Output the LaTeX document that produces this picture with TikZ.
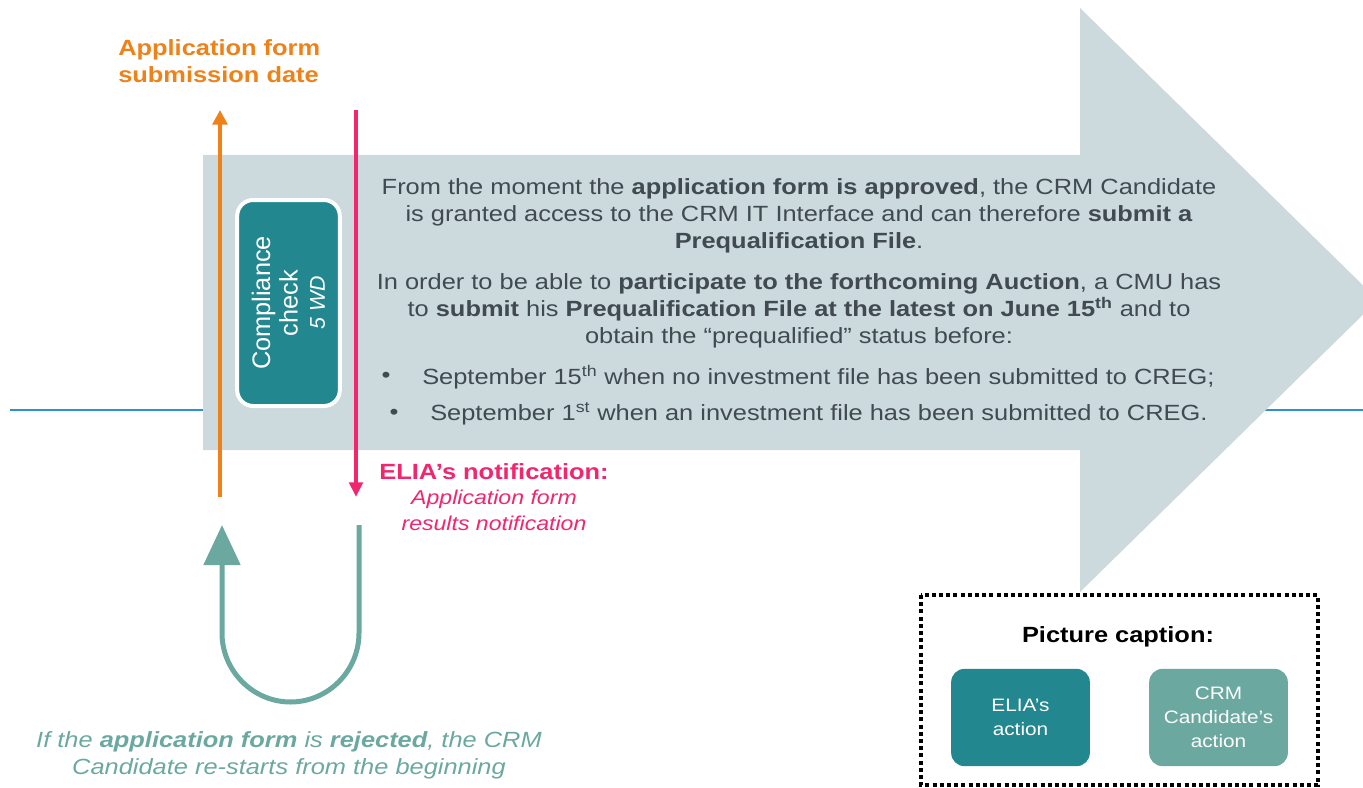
\documentclass[tikz,border=0pt]{standalone}
\usepackage{fontspec}
\setmainfont[FakeStretch=1.155]{Liberation Sans}
\newfontfamily\plainsans{Liberation Sans}
\usetikzlibrary{arrows.meta}
\definecolor{txt}{HTML}{404A50}
\definecolor{pinkc}{HTML}{F2266F}
\definecolor{orangec}{HTML}{EE8219}
\definecolor{tealdark}{HTML}{23878F}
\definecolor{teallight}{HTML}{6BA9A0}
\definecolor{arrowfill}{HTML}{CCD9DD}
\definecolor{bluec}{HTML}{2F8FD5}
\tikzset{
  maintxt/.style={text=txt, font=\fontsize{16.5pt}{20.25pt}\selectfont, inner sep=0pt, align=center},
  actionbox/.style={rounded corners=10pt, minimum width=104pt, minimum height=73pt, text=white, align=center, inner sep=0pt, font=\fontsize{13.5pt}{18pt}\selectfont},
}
\begin{document}
\begin{tikzpicture}[x=0.75pt,y=-0.75pt]
\useasboundingbox (0,0) rectangle (1363,788);
% blue line behind
\coordinate (bl) at (10,410);
\coordinate (br) at (1363,410);
\draw[bluec, line width=1.5pt] (bl) -- (br);
% big arrow
\fill[arrowfill] (203,155) -- (1080,155) -- (1080,8) -- (1378,300) -- (1080,592) -- (1080,450) -- (203,450) -- cycle;
% compliance box
\node[rotate=90, draw=white, line width=3pt, fill=tealdark, rounded corners=12pt, minimum width=154.5pt, minimum height=77pt, text=white, align=center, inner sep=0pt, font=\plainsans\fontsize{19pt}{20.5pt}\selectfont] (cc) at (288.5,303) {Compliance\\check\\{\itshape\fontsize{16pt}{18pt}\selectfont 5 WD}};
% orange arrow
\coordinate (ob) at (220,497);
\coordinate (ot) at (220,110);
\draw[orangec, line width=3.5pt, -{Triangle[width=11pt,length=11pt]}] (ob) -- (ot);
% pink arrow
\coordinate (pt) at (356,110);
\coordinate (pb) at (356,497);
\draw[pinkc, line width=3pt, -{Triangle[width=10pt,length=11pt]}] (pt) -- (pb);
% orange title
\node[text=orangec, font=\bfseries\fontsize{16.5pt}{20.25pt}\selectfont, align=left, anchor=north west, inner sep=0pt] (title) at (118,39) {Application form\\submission date};
% main text
\node[maintxt] (p1) at (799,216) {From the moment the \textbf{application form is approved}, the CRM Candidate\\is granted access to the CRM IT Interface and can therefore \textbf{submit a}\\\textbf{Prequalification File}.};
\node[maintxt] (p2) at (799,311) {In order to be able to \textbf{participate to the forthcoming Auction}, a CMU has\\to \textbf{submit} his \textbf{Prequalification File at the latest on June 15\textsuperscript{th}} and to\\obtain the “prequalified” status before:};
\node[maintxt] (b1) at (386,377) {•};
\node[maintxt, anchor=west] (t1) at (422,377) {September 15\textsuperscript{th} when no investment file has been submitted to CREG;};
\node[maintxt] (b2) at (394,414) {•};
\node[maintxt, anchor=west] (t2) at (430,414) {September 1\textsuperscript{st} when an investment file has been submitted to CREG.};
% pink notification
\node[text=pinkc, align=center, inner sep=0pt, font=\fontsize{16.5pt}{19pt}\selectfont] (notif) at (494,497) {\textbf{ELIA’s notification:}\\{\itshape\fontsize{15pt}{19pt}\selectfont Application form}\\{\itshape\fontsize{15pt}{19pt}\selectfont results notification}};
% U arrow
\coordinate (us) at (359,525);
\coordinate (ue) at (222,525);
\draw[teallight, line width=3.75pt, -{Triangle[width=27pt,length=30pt]}] (us) -- (359,633) .. controls (359,671) and (328,702) .. (290.5,702) .. controls (253,702) and (222,671) .. (222,633) -- (ue);
% bottom text
\node[text=teallight, align=center, inner sep=0pt, font=\itshape\fontsize{16.5pt}{20.25pt}\selectfont] (rej) at (289,755) {If the \textbf{application form} is \textbf{rejected}, the CRM\\Candidate re-starts from the beginning};
% caption box
\draw[black, line width=3pt, dash pattern=on 3pt off 2.4pt] (921,595) rectangle (1318,785);
\node[font=\bfseries\fontsize{16.5pt}{18pt}\selectfont, inner sep=0pt] (cap) at (1118,637) {Picture caption:};
\node[actionbox, fill=tealdark] (ea) at (1020.5,717.5) {ELIA’s\\action};
\node[actionbox, fill=teallight] (ca) at (1218.5,717.5) {CRM\\Candidate’s\\action};
\end{tikzpicture}
\end{document}
